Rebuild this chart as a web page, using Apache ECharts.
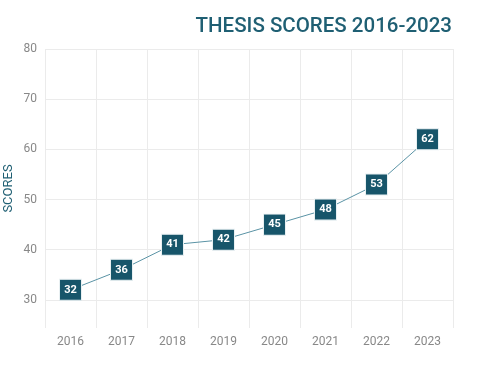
<!DOCTYPE html>
<html><head><meta charset="utf-8">
<script src="https://cdn.jsdelivr.net/npm/echarts@6/dist/echarts.min.js"></script>
<style>html,body{margin:0;padding:0;background:#fff}#c{width:480px;height:370px}</style>
</head><body><div id="c"></div>
<script>
const years = ['2016','2017','2018','2019','2020','2021','2022','2023'];
const scores = [32, 36, 41, 42, 45, 48, 53, 62];
const yTicks = [30, 40, 50, 60, 70, 80];
const chart = echarts.init(document.getElementById('c'), null, {renderer:'canvas'});
chart.setOption({
  animation:false,
  title:{text:'THESIS SCORES 2016-2023', right:28, top:16, padding:0,
    textStyle:{fontFamily:'Roboto', fontSize:20.5, fontWeight:500, color:'#1f5f73'}},
  grid:{left:45, right:27, top:49, bottom:42, containLabel:false, outerBoundsMode:'none'},
  xAxis:{type:'category', data:years, boundaryGap:true,
    axisLine:{show:false}, axisTick:{show:false},
    axisLabel:{color:'#888', fontFamily:'Roboto', fontSize:12, margin:8},
    splitLine:{show:true, lineStyle:{color:'#ebebeb'}}},
  yAxis:{type:'value', min:24.4, max:80,
    name:'SCORES', nameLocation:'middle', nameGap:30, nameRotate:90, nameMoveOverlap:false,
    nameTextStyle:{color:'#1f5f73', fontFamily:'Roboto', fontSize:13},
    axisLine:{show:false}, axisTick:{show:false, customValues:yTicks},
    axisLabel:{color:'#888', fontFamily:'Roboto', fontSize:12, margin:8, customValues:yTicks},
    splitLine:{show:true, lineStyle:{color:'#ebebeb'}}},
  series:[{type:'line', data:scores, symbol:'rect', symbolSize:[22,21],
    itemStyle:{color:'#17556a', borderColor:'#e8f0f2', borderWidth:1},
    lineStyle:{color:'#5a93a5', width:1},
    label:{show:true, position:'inside', color:'#fff', fontFamily:'Roboto', fontWeight:'bold', fontSize:11}}]
});
</script></body></html>
